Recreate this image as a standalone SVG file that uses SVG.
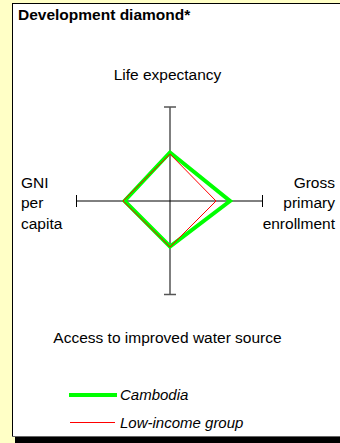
<svg xmlns="http://www.w3.org/2000/svg" width="340" height="443" viewBox="0 0 340 443">
<style>
text{font-family:"Liberation Sans",Arial,sans-serif;fill:#000;font-size:15.5px}
.title{font-weight:bold;font-size:15.5px}
.leg{font-style:italic;font-size:15px}
.axis{stroke:#000;stroke-width:1;fill:none}
.axis2{stroke:#555;stroke-width:1.5;fill:none}
</style>
<rect x="0" y="0" width="340" height="443" fill="#FFFFC6"/>
<rect x="15" y="437" width="325" height="6" fill="#000"/>
<rect x="12.5" y="3.5" width="330" height="433" fill="#fff" stroke="#000" stroke-width="1"/>
<line x1="12" y1="436.5" x2="340" y2="436.5" stroke="#666" stroke-width="1"/>
<text class="title" x="18" y="19.5">Development diamond*</text>
<g id="connectors">
<path class="axis2" d="M170 107V295M164 107H176M164 294.5H176"/>
<path class="axis" d="M76 201H263M76.5 195V207M262.5 195V207"/>
</g>
<g id="cambodia"><polygon points="170,152.5 230,201 170,246.5 124.5,201" fill="none" stroke="#00FF00" stroke-width="4" stroke-linejoin="miter"/></g>
<g id="lowincome"><polygon points="170,154 216,201 170,247 123,201" fill="none" stroke="#FF0000" stroke-width="1"/></g>
<g id="life"><text x="167.5" y="80" text-anchor="middle">Life expectancy</text></g>
<g id="gni"><text x="21" y="187.5">GNI</text><text x="21" y="208">per</text><text x="21" y="228.5">capita</text></g>
<g id="gross"><text x="335" y="187.5" text-anchor="end">Gross</text><text x="335" y="208" text-anchor="end">primary</text><text x="335" y="228.5" text-anchor="end">enrollment</text></g>
<g id="water"><text x="167.5" y="343" text-anchor="middle">Access to improved water source</text></g>
<g id="legend">
<line x1="69" y1="395" x2="117" y2="395" stroke="#00FF00" stroke-width="4"/>
<text class="leg" x="120" y="400">Cambodia</text>
<line x1="70" y1="422.5" x2="115" y2="422.5" stroke="#FF0000" stroke-width="1"/>
<text class="leg" x="120" y="428">Low-income group</text>
</g>
</svg>
